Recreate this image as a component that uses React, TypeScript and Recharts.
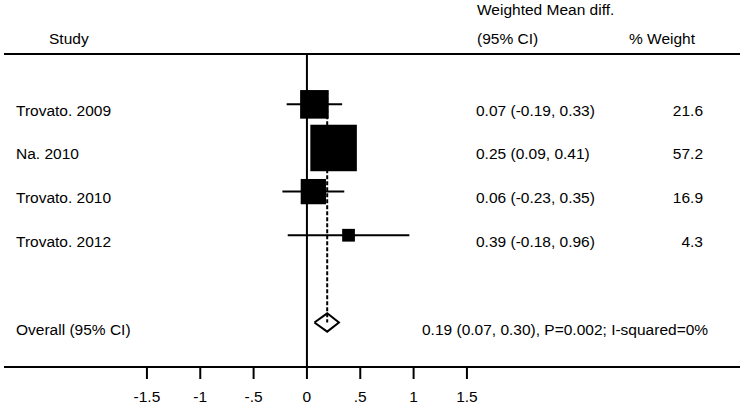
import React from 'react';
import { ScatterChart, Scatter, XAxis, YAxis, ReferenceLine, Customized } from 'recharts';

// Study rows
const studies = ['Trovato. 2009', 'Na. 2010', 'Trovato. 2010', 'Trovato. 2012'];
const estimates = [0.07, 0.25, 0.06, 0.39];
const lowerCI = [-0.19, 0.09, -0.23, -0.18];
const upperCI = [0.33, 0.41, 0.35, 0.96];
const weights = [21.6, 57.2, 16.9, 4.3];
const rows = [1, 2, 3, 4];

// Pooled estimate
const overallLabel = 'Overall (95% CI)';
const overallEstimate = 0.19;
const overallCI = [0.07, 0.3];
const overallStats = 'P=0.002; I-squared=0%';
const overallRow = 6;

// Axis ticks
const xTicks = [-1.5, -1, -0.5, 0, 0.5, 1, 1.5];
const xTickLabels = ['-1.5', '-1', '-.5', '0', '.5', '1', '1.5'];

const W = 744;
const H = 407;
const X_MIN = -2.84;
const X_MAX = 4.06;
const Y_MIN = -0.154;
const Y_MAX = 7.02;
const BOX_SCALE = 6.15; // box side in px per sqrt(% weight)
const DIAMOND_HALF = 0.21; // diamond half height, in rows
const FONT = '"Liberation Sans", Arial, sans-serif';
const FS = 15.5;
const INK = '#000';

const fmt = (v: number) => v.toFixed(2);

const boxData = studies.map((s, i) => ({ x: estimates[i], y: rows[i], w: weights[i], name: s }));

const diamondData = [
  { x: overallCI[0], y: overallRow },
  { x: overallEstimate, y: overallRow - DIAMOND_HALF },
  { x: overallCI[1], y: overallRow },
  { x: overallEstimate, y: overallRow + DIAMOND_HALF },
  { x: overallCI[0], y: overallRow },
];

const WeightBox = (props: any) => {
  const { cx, cy, payload } = props;
  const side = BOX_SCALE * Math.sqrt(payload.w);
  return <rect x={cx - side / 2} y={cy - side / 2} width={side} height={side} fill={INK} />;
};

const renderRowTick = (props: any) => {
  const { y, payload } = props;
  const i = rows.indexOf(payload.value);
  if (i >= 0) {
    const base = y + 11.5;
    return (
      <g style={{ fontSize: FS, fontFamily: FONT }} fill={INK}>
        <text x={16} y={base}>{studies[i]}</text>
        <text x={476} y={base}>{`${fmt(estimates[i])} (${fmt(lowerCI[i])}, ${fmt(upperCI[i])})`}</text>
        <text x={703} y={base} textAnchor="end">{weights[i].toFixed(1)}</text>
      </g>
    );
  }
  return (
    <g style={{ fontSize: FS, fontFamily: FONT }} fill={INK}>
      <text x={16} y={y + 12.5}>{overallLabel}</text>
      <text x={422} y={y + 12.5}>
        {`${fmt(overallEstimate)} (${fmt(overallCI[0])}, ${fmt(overallCI[1])}), ${overallStats}`}
      </text>
    </g>
  );
};

const Header = () => (
  <g style={{ fontSize: FS, fontFamily: FONT }} fill={INK}>
    <text x={477} y={15}>Weighted Mean diff.</text>
    <text x={49} y={44}>Study</text>
    <text x={477} y={44}>(95% CI)</text>
    <text x={629} y={44}>% Weight</text>
  </g>
);

const App: React.FC = () => {
  return (
    <div style={{ position: 'absolute', left: 0, top: 0, width: W, height: H, background: '#fff', fontFamily: FONT }}>
      <ScatterChart width={W} height={H} margin={{ top: 54, right: 4, bottom: 0, left: 3 }}>
        <XAxis
          type="number"
          dataKey="x"
          domain={[X_MIN, X_MAX]}
          allowDataOverflow
          ticks={xTicks}
          interval={0}
          tickFormatter={(v: number) => xTickLabels[xTicks.indexOf(v)] ?? String(v)}
          axisLine={{ stroke: INK, strokeWidth: 2 }}
          tickLine={{ stroke: INK, strokeWidth: 2 }}
          tickSize={12}
          tickMargin={12}
          tick={{ fill: INK, fontSize: FS, fontFamily: FONT }}
          height={40}
        />
        <YAxis
          type="number"
          dataKey="y"
          domain={[Y_MIN, Y_MAX]}
          allowDataOverflow
          reversed
          ticks={[...rows, overallRow]}
          interval={0}
          width={1}
          axisLine={false}
          tickLine={false}
          tick={renderRowTick}
        />
        <ReferenceLine y={Y_MIN} stroke={INK} strokeWidth={2} ifOverflow="visible" />
        <ReferenceLine x={0} stroke={INK} strokeWidth={2} ifOverflow="visible" />
        <ReferenceLine
          segment={[
            { x: overallEstimate, y: 0.7 },
            { x: overallEstimate, y: overallRow },
          ]}
          stroke={INK}
          strokeWidth={2}
          strokeDasharray="4 2"
          ifOverflow="visible"
        />
        {studies.map((s, i) => (
          <ReferenceLine
            key={s}
            segment={[
              { x: lowerCI[i], y: rows[i] },
              { x: upperCI[i], y: rows[i] },
            ]}
            stroke={INK}
            strokeWidth={2}
            ifOverflow="visible"
          />
        ))}
        <Scatter data={boxData} shape={<WeightBox />} isAnimationActive={false} />
        <Scatter
          data={diamondData}
          line={{ stroke: INK, strokeWidth: 2 }}
          lineJointType="linear"
          shape={() => <g />}
          isAnimationActive={false}
        />
        <Customized component={Header} />
      </ScatterChart>
    </div>
  );
};

export default App;
